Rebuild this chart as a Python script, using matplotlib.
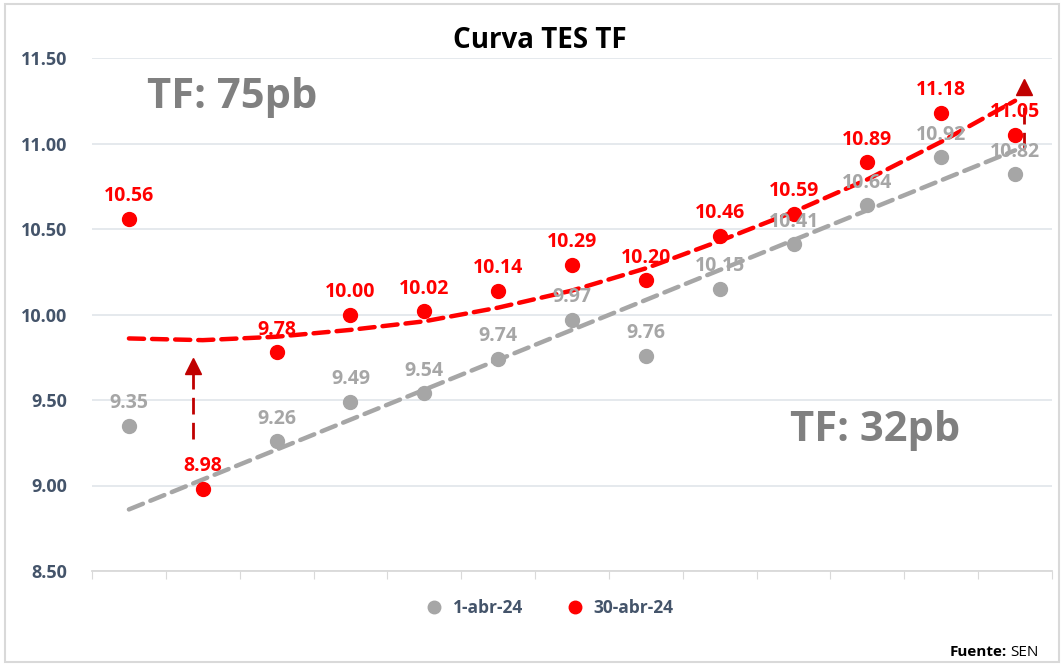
import numpy as np
import matplotlib.pyplot as plt
from matplotlib.patches import Rectangle

plt.rcParams['font.family'] = ['Open Sans', 'DejaVu Sans']

# datos
posiciones = list(range(1, 14))
tes_1abr = [9.35, None, 9.26, 9.49, 9.54, 9.74, 9.97, 9.76, 10.15, 10.41, 10.64, 10.92, 10.82]
tes_30abr = [10.56, 8.98, 9.78, 10.00, 10.02, 10.14, 10.29, 10.20, 10.46, 10.59, 10.89, 11.18, 11.05]
tend_30abr = [9.86, 9.85, 9.87, 9.91, 9.96, 10.04, 10.14, 10.27, 10.43, 10.60, 10.79, 11.01, 11.25]
tend_1abr_x = [1, 13]
tend_1abr = [8.86, 10.96]
ticks_y = [8.5, 9.0, 9.5, 10.0, 10.5, 11.0, 11.5]

gris = "#A6A6A6"
rojo = "#FF0000"
rojo_osc = "#C00000"
azul_eje = "#44546A"

fig = plt.figure(figsize=(10.63, 6.64), dpi=100)
ax = fig.add_axes([92 / 1063, 93 / 664, 960 / 1063, 513 / 664])

x1 = [x for x, v in zip(posiciones, tes_1abr) if v is not None]
y1 = [v for v in tes_1abr if v is not None]

ax.plot(tend_1abr_x, tend_1abr, color=gris, lw=3.2, dashes=(3.4, 1.8),
        dash_capstyle="round", zorder=2)
ax.plot(posiciones, tend_30abr, color=rojo, lw=3.2, dashes=(3.4, 1.8),
        dash_capstyle="round", zorder=3)

ax.plot(x1, y1, "o", color=gris, ms=10, label="1-abr-24", zorder=4)
ax.plot(posiciones, tes_30abr, "o", color=rojo, ms=10, label="30-abr-24", zorder=5)

for x, v in zip(x1, y1):
    ax.annotate(f"{v:.2f}", (x, v), xytext=(0, 9), textcoords="offset points",
                ha="center", va="bottom", color=gris, fontsize=14, fontweight="bold", zorder=6)
for x, v in zip(posiciones, tes_30abr):
    ax.annotate(f"{v:.2f}", (x, v), xytext=(0, 9), textcoords="offset points",
                ha="center", va="bottom", color=rojo, fontsize=14, fontweight="bold", zorder=7)

# flechas
ax.plot([1.87, 1.87], [9.27, 9.66], color=rojo_osc, lw=2, dashes=(6, 3))
ax.plot([1.87], [9.70], marker="^", color=rojo_osc, ms=11, ls="none")
ax.plot([13.12, 13.12], [10.97, 11.25], color=rojo_osc, lw=2, dashes=(6, 3))
ax.plot([13.12], [11.33], marker="^", color=rojo_osc, ms=11, ls="none")

ax.text(2.4, 11.27, "TF: 75pb", color="#808080", fontsize=30, fontweight="bold",
        ha="center", va="center")
ax.text(11.1, 9.32, "TF: 32pb", color="#808080", fontsize=30, fontweight="bold",
        ha="center", va="center")

ax.set_xlim(0.5, 13.5)
ax.set_ylim(8.5, 11.5)
ax.set_yticks(ticks_y)
ax.set_yticklabels([f"{t:.2f}" for t in ticks_y], color=azul_eje, fontsize=13, fontweight="bold")
ax.tick_params(axis="y", length=0, pad=18)
ax.set_xticks(np.arange(0.5, 14, 1))
ax.set_xticklabels([])
ax.tick_params(axis="x", length=6, color="#D9D9D9")
ax.grid(axis="y", color="#E3E7EC", lw=1.3)
ax.set_axisbelow(True)
for s in ["top", "right", "left"]:
    ax.spines[s].set_visible(False)
ax.spines["bottom"].set_color("#D9D9D9")
ax.spines["bottom"].set_linewidth(1.3)

fig.text(540 / 1063, 1 - 40 / 664, "Curva TES TF", ha="center", va="center",
         fontsize=20, fontweight="bold", color="black")

leg = fig.legend(loc="center", bbox_to_anchor=(545 / 1063, 1 - 608 / 664), ncol=2, frameon=False,
                 fontsize=12.5, handletextpad=0.05, columnspacing=2.0, markerscale=0.9)
for t in leg.get_texts():
    t.set_color(azul_eje)
    t.set_fontweight("bold")

fig.text(1007 / 1063, 1 - 652 / 664, "Fuente:", ha="right", va="center", fontsize=11,
         fontweight="bold", color="black")
fig.text(1010 / 1063, 1 - 652 / 664, "SEN", ha="left", va="center", fontsize=11, color="black")

fig.patches.append(Rectangle((5 / 1063, 2 / 664), 1054 / 1063, 658 / 664, transform=fig.transFigure,
                             fill=False, edgecolor="#D9D9D9", lw=1.5))

fig.savefig("out.png", dpi=100)
